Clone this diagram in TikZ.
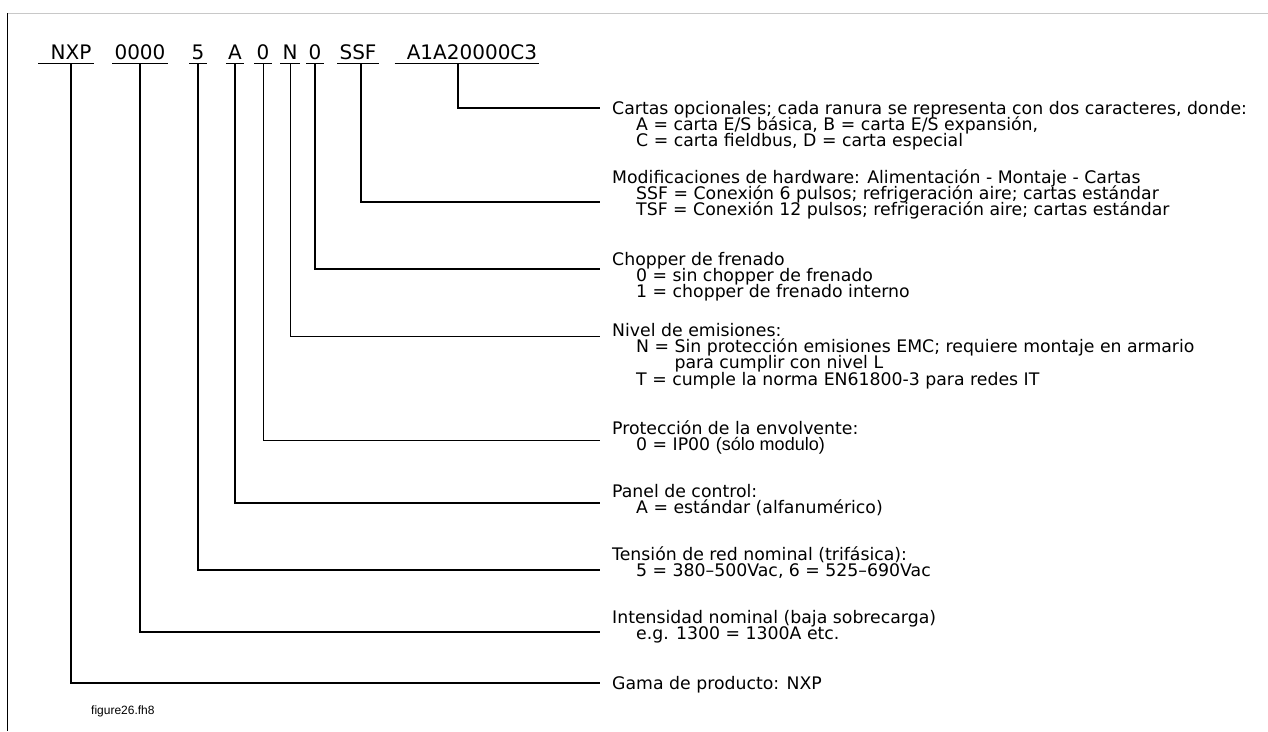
\documentclass[tikz,border=0pt]{standalone}
\usepackage{fontspec}
\usepackage{tikz}
\usetikzlibrary{positioning,calc}
\newfontfamily\codeface{DejaVu Sans}
\newfontfamily\keyface{DejaVu Sans}
\newfontfamily\tagface{Liberation Sans}
\newcommand\codefont{\codeface\fontsize{20}{22}\selectfont}
\newcommand\keyfont{\keyface\fontsize{17.3}{16.3}\selectfont\lineskiplimit=-30pt\relax}
\definecolor{rulegrey}{HTML}{C8C8C8}
\tikzset{
  codechar/.style={font=\codefont, anchor=base, inner xsep=2pt, inner ysep=0pt,
    text height=14.6pt, text depth=4.4pt},
  keytext/.style={font=\keyfont, align=left, anchor=north west, inner sep=0pt},
  leader/.style={line width=1.5pt, line join=miter},
  thinleader/.style={line width=1pt, line join=miter}
}
\newcommand\ind{\hspace*{24pt}}

\begin{document}
\begin{tikzpicture}[x=1pt, y=-1pt]
\useasboundingbox (0,0) rectangle (1268,731);

% Frame
\draw[rulegrey, line width=1pt] (8,13) -- (1268,13);
\draw[line width=0.8pt] (7.5,13) -- (7.5,731);

% Type code
\node[codechar] (cNXP) at (71,59) {NXP};
\node[codechar] (cCur) at (140,59) {0000};
\node[codechar] (cVolt) at (198,59) {5};
\node[codechar] (cPanel) at (235,59) {A};
\node[codechar] (cIp) at (263,59) {0};
\node[codechar] (cEmc) at (290,59) {N};
\node[codechar] (cChop) at (315,59) {0};
\node[codechar] (cHw) at (358,59) {SSF};
\node[codechar] (cOpt) at (472,59) {A1A20000C3};

% Underlines
\draw[leader] ([xshift=-10pt]cNXP.south west) -- (cNXP.south east);
\foreach \c in {cCur,cVolt,cPanel,cIp,cEmc,cChop,cHw}
  \draw[leader] (\c.south west) -- (\c.south east);
\draw[line width=1pt] ([xshift=-10pt]cOpt.south west) -- (cOpt.south east);

% Explanations
\node[keytext] (lOpt) at (612,98) {\rule{0pt}{16pt}Cartas opcionales; cada ranura se representa con dos caracteres, donde:\\
  \ind A = carta E/S básica, B = carta E/S expansión,\\
  \ind C = carta fieldbus, D = carta especial};
\node[keytext] (lHw) at (612,167) {\rule{0pt}{16pt}Modificaciones de hardware: Alimentación - Montaje - Cartas\\
  \ind SSF = Conexión 6 pulsos; refrigeración aire; cartas estándar\\
  \ind TSF = Conexión 12 pulsos; refrigeración aire; cartas estándar};
\node[keytext] (lChop) at (612,249) {\rule{0pt}{16pt}Chopper de frenado\\
  \ind 0 = sin chopper de frenado\\
  \ind 1 = chopper de frenado interno};
\node[keytext] (lEmc) at (612,320) {\rule{0pt}{16pt}Nivel de emisiones:\\
  \ind N = Sin protección emisiones EMC; requiere montaje en armario\\
  \ind\phantom{N = }para cumplir con nivel L\\
  \ind T = cumple la norma EN61800-3 para redes IT};
\node[keytext] (lIp) at (612,418) {\rule{0pt}{16pt}Protección de la envolvente:\\
  \ind 0 = IP00 {\tagface\fontsize{18}{16.3}\selectfont(sólo modulo)}};
\node[keytext] (lPanel) at (612,481) {\rule{0pt}{16pt}Panel de control:\\
  \ind A = estándar (alfanumérico)};
\node[keytext] (lVolt) at (612,544) {\rule{0pt}{16pt}Tensión de red nominal (trifásica):\\
  \ind 5 = 380–500Vac, 6 = 525–690Vac};
\node[keytext] (lCur) at (612,607) {\rule{0pt}{16pt}Intensidad nominal (baja sobrecarga)\\
  \ind e.g. 1300 = 1300A etc.};
\node[keytext] (lRange) at (612,673) {\rule{0pt}{16pt}Gama de producto: NXP};

\node[anchor=west, inner sep=0pt, font=\tagface\fontsize{12}{13}\selectfont] (figtag) at (91,711) {figure26.fh8};

% Leaders
\draw[leader] ([xshift=-14pt]cOpt.south) |- ([xshift=-12pt,yshift=-10pt]lOpt.north west);
\draw[leader] ([xshift=3pt]cHw.south) |- ([xshift=-12pt,yshift=-35pt]lHw.north west);
\draw[leader] (cChop.south) |- ([xshift=-12pt,yshift=-20pt]lChop.north west);
\draw[thinleader] (cEmc.south) |- ([xshift=-12pt,yshift=-16pt]lEmc.north west);
\draw[thinleader] (cIp.south) |- ([xshift=-12pt,yshift=-22pt]lIp.north west);
\draw[leader] (cPanel.south) |- ([xshift=-12pt,yshift=-22pt]lPanel.north west);
\draw[leader] (cVolt.south) |- ([xshift=-12pt,yshift=-26pt]lVolt.north west);
\draw[leader] (cCur.south) |- ([xshift=-12pt,yshift=-25pt]lCur.north west);
\draw[leader] (cNXP.south) |- ([xshift=-12pt,yshift=-10pt]lRange.north west);
\end{tikzpicture}
\end{document}
